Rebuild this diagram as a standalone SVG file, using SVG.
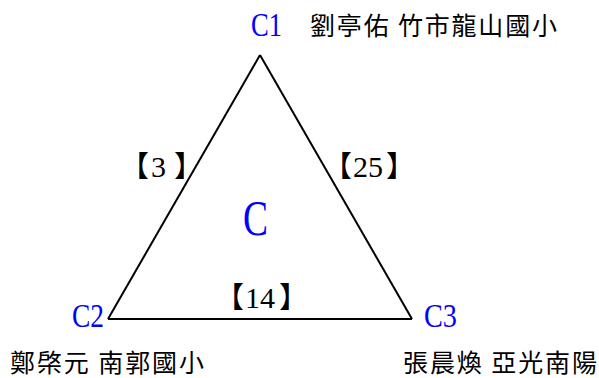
<svg xmlns="http://www.w3.org/2000/svg" width="599" height="378" viewBox="0 0 599 378">
<style>
.lbl{font-family:"Liberation Serif","Noto Sans CJK TC",serif;fill:#0000ff}
.cjk{font-family:"Noto Sans CJK TC","Noto Sans CJK SC",sans-serif;font-size:25px;fill:#000}
.br{font-family:"Noto Sans CJK TC","Noto Sans CJK SC",sans-serif;font-size:29px;fill:#000}
.num{font-family:"Liberation Serif",serif;font-size:30px;fill:#000}
.edge{stroke:#000;stroke-width:2;fill:none}
</style>
<rect width="599" height="378" fill="#fff"/>
<g id="connectors">
<line class="edge" x1="260" y1="55" x2="108" y2="319"/>
<line class="edge" x1="260" y1="55" x2="412" y2="319"/>
<line class="edge" x1="108" y1="319" x2="412" y2="319"/>
<text y="177"><tspan class="br" x="120">【</tspan><tspan class="num" x="151">3</tspan><tspan class="br" x="174">】</tspan></text>
<text y="177"><tspan class="br" x="323">【</tspan><tspan class="num" x="353">25</tspan><tspan class="br" x="386">】</tspan></text>
<text y="308"><tspan class="br" x="215">【</tspan><tspan class="num" x="245">14</tspan><tspan class="br" x="279">】</tspan></text>
</g>
<g id="C">
<text class="lbl" x="243" y="235" font-size="50" textLength="25" lengthAdjust="spacingAndGlyphs">C</text>
</g>
<g id="C1">
<text class="lbl" x="251" y="36" font-size="34" textLength="31" lengthAdjust="spacingAndGlyphs">C1</text>
<text class="cjk" x="310" y="35" textLength="247">劉亭佑 竹市龍山國小</text>
</g>
<g id="C2">
<text class="lbl" x="72" y="327" font-size="34" textLength="32" lengthAdjust="spacingAndGlyphs">C2</text>
<text class="cjk" x="10" y="372" textLength="194">鄭棨元 南郭國小</text>
</g>
<g id="C3">
<text class="lbl" x="424" y="327" font-size="34" textLength="33" lengthAdjust="spacingAndGlyphs">C3</text>
<text class="cjk" x="403" y="372" textLength="194">張晨煥 亞光南陽</text>
</g>
</svg>
